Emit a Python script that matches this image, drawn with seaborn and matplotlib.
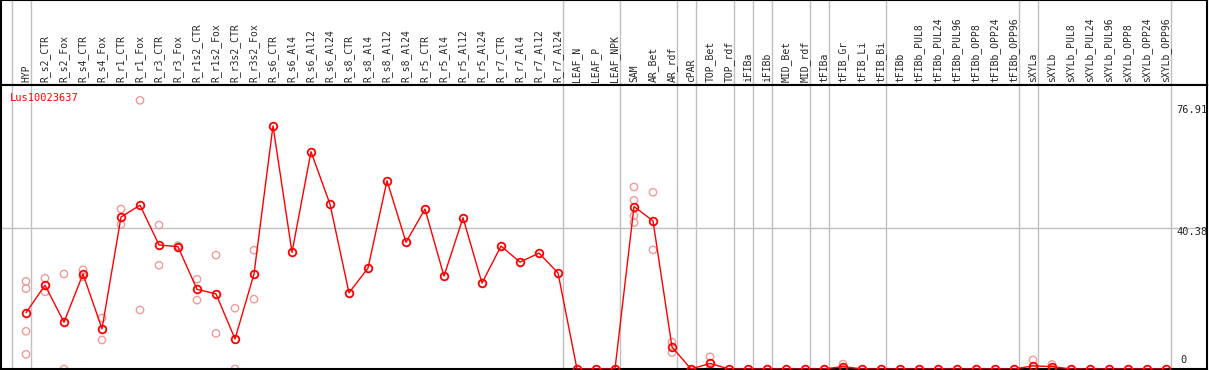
import numpy as np
import pandas as pd
import matplotlib
matplotlib.use("Agg")
import matplotlib.pyplot as plt
import seaborn as sns

samples = ["HYP", "R_s2_CTR", "R_s2_Fox", "R_s4_CTR", "R_s4_Fox", "R_r1_CTR", "R_r1_Fox",
           "R_r3_CTR", "R_r3_Fox", "R_r1s2_CTR", "R_r1s2_Fox", "R_r3s2_CTR", "R_r3s2_Fox",
           "R_s6_CTR", "R_s6_Al4", "R_s6_Al12", "R_s6_Al24", "R_s8_CTR", "R_s8_Al4", "R_s8_Al12",
           "R_s8_Al24", "R_r5_CTR", "R_r5_Al4", "R_r5_Al12", "R_r5_Al24", "R_r7_CTR", "R_r7_Al4",
           "R_r7_Al12", "R_r7_Al24", "LEAF_N", "LEAF_P", "LEAF_NPK", "SAM", "AR_Bet", "AR_rdf",
           "cPAR", "TOP_Bet", "TOP_rdf", "iFIBa", "iFIBb", "MID_Bet", "MID_rdf", "tFIBa",
           "tFIB_Gr", "tFIB_Li", "tFIB_Bi", "tFIBb", "tFIBb_PUL8", "tFIBb_PUL24", "tFIBb_PUL96",
           "tFIBb_OPP8", "tFIBb_OPP24", "tFIBb_OPP96", "sXYLa", "sXYLb", "sXYLb_PUL8",
           "sXYLb_PUL24", "sXYLb_PUL96", "sXYLb_OPP8", "sXYLb_OPP24", "sXYLb_OPP96"]

mean_expr = [16.1, 24.0, 13.4, 27.2, 11.5, 43.5, 46.9, 35.5, 35.0, 22.8, 21.5, 8.6, 27.2,
             69.6, 33.4, 62.2, 47.2, 21.8, 28.9, 53.9, 36.3, 45.8, 26.6, 43.3, 24.6,
             35.2, 30.6, 33.2, 27.5, 0, 0, 0, 46.5, 42.4, 6.3, 0, 1.6, 0, 0, 0, 0, 0, 0,
             0.7, 0, 0, 0, 0, 0, 0, 0, 0, 0, 0.9, 0.7, 0, 0, 0, 0, 0, 0]

# individual replicates (only where they show apart from the mean)
replicates = {
    "HYP": [25.1, 23.0, 10.8, 4.2],
    "R_s2_CTR": [26.0, 22.1],
    "R_s2_Fox": [27.2, 0],
    "R_s4_CTR": [28.4, 26.4],
    "R_s4_Fox": [14.6, 8.3],
    "R_r1_CTR": [45.8, 41.4],
    "R_r1_Fox": [76.91, 16.9],
    "R_r3_CTR": [41.2, 29.7],
    "R_r3_Fox": [35.3, 34.7],
    "R_r1s2_CTR": [25.7, 19.7],
    "R_r1s2_Fox": [32.6, 10.2],
    "R_r3s2_CTR": [17.4, 0],
    "R_r3s2_Fox": [34.0, 20.0],
    "SAM": [52.1, 48.3, 43.9, 41.9],
    "AR_Bet": [50.6, 34.1],
    "AR_rdf": [7.7, 4.7],
    "TOP_Bet": [3.5, 0],
    "tFIB_Gr": [1.4, 0],
    "sXYLa": [2.6, 0],
    "sXYLb": [1.3, 0],
}

# groups end after these samples
group_ends = ["HYP", "R_r7_Al24", "LEAF_NPK", "AR_rdf", "cPAR", "TOP_rdf", "iFIBa", "iFIBb",
              "MID_rdf", "tFIBa", "tFIB_Bi", "tFIBb_OPP96", "sXYLa", "sXYLb_OPP96"]

gene = "Lus10023637"
y_ticks = [0, 40.38, 76.91]

pos = np.arange(len(samples))
df = pd.DataFrame({"pos": pos, "expr": mean_expr})
rep_rows = [(samples.index(k), v) for k, vals in replicates.items() for v in vals]
rep_df = pd.DataFrame(rep_rows, columns=["pos", "expr"])

sns.set_style("white")
plt.rcParams["font.family"] = ["DejaVu Sans Mono", "DejaVu Sans"]

W, H = 1209, 370
fig = plt.figure(figsize=(W / 100, H / 100), dpi=100)
left = 1 / W
width = 1206 / W
ax_head = fig.add_axes([left, (H - 85) / H, width, 85 / H])
ax = fig.add_axes([left, 1 / H, width, 284 / H])

x0 = (1 - 26) / 19
x1 = (1207 - 26) / 19
for a in (ax_head, ax):
    a.set_xlim(x0, x1)
    a.set_xticks([])
    a.set_yticks([])
    for s in a.spines.values():
        s.set_color("black")
        s.set_linewidth(1.5)
    a.axvline(-0.75, color="#c0c0c0", lw=1, zorder=0)
    for g in group_ends:
        a.axvline(samples.index(g) + 0.25, color="#c0c0c0", lw=1, zorder=0)

ax_head.set_ylim(0, 1)
for i, name in enumerate(samples):
    ax_head.text(i, 0.03, name, rotation=90, ha="center", va="bottom", fontsize=7)

ax.set_ylim(0, 81.3)
ax.axhline(y_ticks[1], color="#c0c0c0", lw=1, zorder=0)

sns.scatterplot(data=rep_df, x="pos", y="expr", ax=ax, marker="o", s=28,
                facecolor="none", edgecolor="#f09a9a", linewidth=1.0, zorder=2)
sns.lineplot(data=df, x="pos", y="expr", ax=ax, color="red", lw=1, marker="o",
             markersize=5.5, markerfacecolor="none", markeredgecolor="red",
             markeredgewidth=1.3, zorder=3)
ax.set_xlabel("")
ax.set_ylabel("")

ax.text(0.0075, 0.954, gene, transform=ax.transAxes, color="red", fontsize=7.5,
        ha="left", va="center")
tx = (1176 - 1) / 1206
ax.annotate("76.91", (tx, y_ticks[2]), xycoords=("axes fraction", "data"),
            xytext=(0, -3), textcoords="offset points", ha="left", va="top", fontsize=7.5)
ax.annotate("40.38", (tx, y_ticks[1]), xycoords=("axes fraction", "data"),
            xytext=(0, -3), textcoords="offset points", ha="left", va="center", fontsize=7.5)
ax.annotate("0", (tx, y_ticks[0]), xycoords=("axes fraction", "data"),
            xytext=(3, 3), textcoords="offset points", ha="left", va="bottom", fontsize=7.5)

fig.savefig("out.png", dpi=100)
